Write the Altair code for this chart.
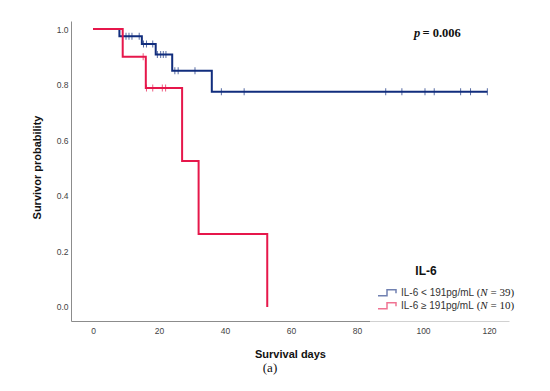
import altair as alt
import pandas as pd

# ---------------- data ----------------
groups = ["IL-6 < 191pg/mL", "IL-6 ≥ 191pg/mL"]
n_values = ["= 39)", "= 10)"]
colors = ["#112d7d", "#e6174b"]

# step curves (time of each drop, survival after it)
blue_t = [0, 8, 14.8, 19, 24, 36, 119.5]
blue_s = [1.0, 0.974, 0.946, 0.908, 0.850, 0.774, 0.774]
red_t = [0, 9, 16, 27, 32, 52.8]
red_s = [1.0, 0.900, 0.788, 0.525, 0.263, 0.0]

# censored observations
blue_cens = [10, 10.9, 11.8, 14, 15.3, 16.2, 18.1, 19.5, 20.5, 21.3, 22.1,
             24.8, 25.8, 30.9, 38.9, 45.8, 88.7, 93.6, 100.6, 103.4,
             111.4, 114.4, 119.5]
red_cens = [15.2, 16.2, 18.1, 21, 22]

x_ticks = [0, 20, 40, 60, 80, 100, 120]
y_ticks = [0.0, 0.2, 0.4, 0.6, 0.8, 1.0]
p_label = "p"
p_value = "= 0.006"


def step_value(times, surv, t):
    v = surv[0]
    for ti, si in zip(times, surv):
        if ti <= t:
            v = si
    return v


line_rows = []
for g, ts, ss in [(groups[0], blue_t, blue_s), (groups[1], red_t, red_s)]:
    for i, (t, s) in enumerate(zip(ts, ss)):
        line_rows.append({"grp": g, "t": t, "s": s, "o": i})
lines_df = pd.DataFrame(line_rows)

cens_rows = []
for t in blue_cens:
    cens_rows.append({"grp": groups[0], "t": t, "s": step_value(blue_t, blue_s, t)})
for t in red_cens:
    cens_rows.append({"grp": groups[1], "t": t, "s": step_value(red_t, red_s, t)})
cens_df = pd.DataFrame(cens_rows)

one = pd.DataFrame({"a": [0]})

# ---------------- encodings ----------------
xscale = alt.Scale(domain=[-6.67, 126.06], nice=False, zero=False)
yscale = alt.Scale(domain=[-0.0504, 1.0288], nice=False, zero=False)
cscale = alt.Scale(domain=groups, range=colors)

x_enc = alt.X("t:Q", scale=xscale,
              axis=alt.Axis(values=x_ticks, title="Survival days",
                            labelPadding=5, titlePadding=14))
y_enc = alt.Y("s:Q", scale=yscale,
              axis=alt.Axis(values=y_ticks, format=".1f",
                            title="Survivor probability",
                            labelPadding=3, titlePadding=14, titleY=146))

step_symbol = "M-1,0.3L-0.1,0.3L-0.1,-0.3L0.8,-0.3L0.8,0.05"
legend = alt.Legend(
    title="IL-6",
    orient="none", legendX=296, legendY=234.7,
    titleFont="Liberation Sans", titleFontSize=12, titleFontWeight="bold",
    titleColor="#111111", titleAnchor="middle", titlePadding=8.5,
    labelFont="Liberation Sans", labelFontSize=10, labelColor="#333333",
    labelOffset=2,
    symbolType=step_symbol, symbolSize=400, symbolStrokeWidth=1.5,
    symbolOpacity=0.6, symbolFillColor="transparent",
    clipHeight=13, rowPadding=0, padding=10,
)

# faint box of the legend that greys the axis line under it
veil = alt.Chart(one).mark_rect(fill="white", opacity=0.6).encode(
    x=alt.value(299), x2=alt.value(445), y=alt.value(296), y2=alt.value(304))

lines = alt.Chart(lines_df).mark_line(interpolate="step-after", strokeWidth=2).encode(
    x=x_enc, y=y_enc,
    stroke=alt.Stroke("grp:N", scale=cscale, legend=legend),
    order="o:Q",
)

ticks = alt.Chart(cens_df).mark_tick(orient="vertical", size=7, thickness=1).encode(
    x="t:Q", y="s:Q",
    color=alt.Color("grp:N", scale=alt.Scale(domain=groups, range=colors), legend=None),
)

# N annotations next to legend entries
n_layers = []
for i, nv in enumerate(n_values):
    yy = 272 + 12.5 * i
    n_layers.append(alt.Chart(one).mark_text(
        text="(", font="Liberation Serif", fontSize=11, align="left",
        baseline="middle", color="#222222").encode(x=alt.value(405.7), y=alt.value(yy)))
    n_layers.append(alt.Chart(one).mark_text(
        text="N", font="Liberation Serif", fontSize=11, fontStyle="italic",
        align="left", baseline="middle", color="#222222").encode(
        x=alt.value(409.2), y=alt.value(yy)))
    n_layers.append(alt.Chart(one).mark_text(
        text=nv, font="Liberation Serif", fontSize=11, align="left",
        baseline="middle", color="#222222").encode(x=alt.value(419.5), y=alt.value(yy)))

p1 = alt.Chart(one).mark_text(
    text=p_label, font="Liberation Serif", fontSize=12.5, fontStyle="italic",
    fontWeight="bold", align="left", baseline="middle", color="#111111").encode(
    x=alt.value(343), y=alt.value(11.7))
p2 = alt.Chart(one).mark_text(
    text=p_value, font="Liberation Serif", fontSize=12.5, fontWeight="bold",
    align="left", baseline="middle", color="#111111").encode(
    x=alt.value(351.5), y=alt.value(11.7))

chart = alt.layer(lines, ticks, veil, p1, p2, *n_layers).resolve_scale(
    color="independent"
).properties(
    width=438, height=300,
    autosize=alt.AutoSizeParams(type="none"),
    padding={"left": 63, "top": 13, "right": 20, "bottom": 60},
    title=alt.TitleParams("(a)", orient="bottom", font="Liberation Serif",
                          fontSize=13, fontWeight="normal", color="#111111",
                          dx=-20, offset=2, anchor="middle"),
).configure_view(stroke=None).configure_axis(
    grid=False, ticks=False, domainColor="#8c8c8c", domainWidth=1,
    labelColor="#444444", labelFont="Liberation Sans", labelFontSize=8.5,
    titleFont="Liberation Sans", titleFontSize=11, titleFontWeight="bold",
    titleColor="#111111",
)

chart.save("out.html", embed_options={"renderer": "svg", "actions": False})
